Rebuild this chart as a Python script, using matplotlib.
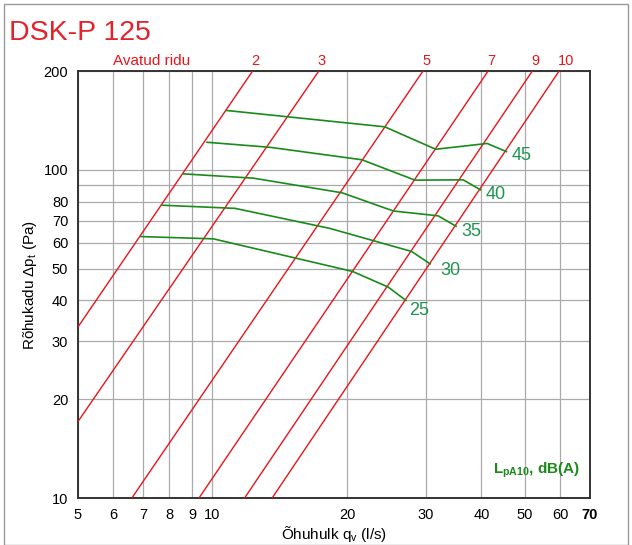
#import drawing modules
import numpy as np
import matplotlib.pyplot as plt
from matplotlib.patches import Rectangle

plt.rcParams['font.family'] = ['Liberation Sans', 'DejaVu Sans']
plt.rcParams['mathtext.fontset'] = 'custom'
plt.rcParams['mathtext.rm'] = 'Liberation Sans'
plt.rcParams['mathtext.it'] = 'Liberation Sans:italic'
plt.rcParams['mathtext.bf'] = 'Liberation Sans:bold'

#red lines: damper openings (start and end point)
ridu_labels = ['2', '3', '5', '7', '9', '10']
ridu_q_start = [5, 5, 6.6, 9.33, 11.8, 13.6]
ridu_dp_start = [33.2, 17.1, 10, 10, 10, 10]
ridu_q_end = [12.3, 17.3, 29.6, 41.4, 52.0, 59.7]
ridu_dp_end = [200, 200, 200, 200, 200, 200]

#green lines: sound level curves
levels = [25, 30, 35, 40, 45]
q_25 = [6.92, 10.05, 20.6, 24.75, 27.1]
dp_25 = [62.6, 61.6, 49.0, 43.9, 40.0]
q_30 = [7.71, 11.23, 18.3, 27.9, 30.7]
dp_30 = [78.0, 76.3, 66.3, 56.4, 51.7]
q_35 = [8.6, 12.35, 19.5, 25.4, 32.0, 35.1]
dp_35 = [97.2, 94.3, 85.1, 74.9, 72.4, 67.3]
q_40 = [9.72, 13.45, 21.6, 28.4, 36.4, 39.8]
dp_40 = [121.3, 117.1, 107.3, 93.0, 93.2, 86.9]
q_45 = [10.76, 24.3, 31.6, 41.2, 45.5]
dp_45 = [151.6, 135.2, 115.5, 120.3, 113.6]
curves_q = [q_25, q_30, q_35, q_40, q_45]
curves_dp = [dp_25, dp_30, dp_35, dp_40, dp_45]
#label offsets in pixels from the curve end
label_offsets = [(3, -10), (10, -7), (5, -5), (5, -5), (5, -4)]

x_ticks = [5, 6, 7, 8, 9, 10, 20, 30, 40, 50, 60, 70]
y_ticks = [10, 20, 30, 40, 50, 60, 70, 80, 90, 100, 200]
y_ticklabels = ['10', '20', '30', '40', '50', '60', '70', '80', '', '100', '200']

red = '#e8141c'
green_line = '#1a8a1a'
green_text = '#1e9650'

fig = plt.figure(figsize=(6.32, 5.45), dpi=100)
ax = fig.add_axes([78/632, 47/545, 512/632, 427/545])
ax.set_xscale('log')
ax.set_yscale('log')
ax.set_xlim(5, 70)
ax.set_ylim(10, 200)

ax.set_xticks(x_ticks)
ax.set_xticklabels([str(t) for t in x_ticks])
ax.get_xticklabels()[-1].set_fontweight('bold')
ax.set_yticks(y_ticks)
ax.set_yticklabels(y_ticklabels)
ax.minorticks_off()
ax.tick_params(length=0, pad=7, labelsize=10.5)
ax.grid(True, color='#aaaaaa', lw=0.9)
ax.set_axisbelow(True)
for s in ax.spines.values():
    s.set_color('#333333')
    s.set_linewidth(1.4)

#draw the red lines
for i in range(len(ridu_labels)):
    ax.plot([ridu_q_start[i], ridu_q_end[i]], [ridu_dp_start[i], ridu_dp_end[i]],
            color=red, lw=1.0, zorder=3)
    ax.annotate(ridu_labels[i], xy=(ridu_q_end[i], ridu_dp_end[i]), xytext=(-1, 3),
                textcoords='offset pixels', ha='left', va='bottom', color=red,
                fontsize=10.5, annotation_clip=False)
ax.annotate('Avatud ridu', xy=(0.1445, 1), xycoords='axes fraction', xytext=(0, 3),
            textcoords='offset pixels', ha='center', va='bottom', color=red, fontsize=11)

#draw the green lines
for i in range(len(levels)):
    ax.plot(curves_q[i], curves_dp[i], color=green_line, lw=1.2, zorder=4)
    ax.annotate(str(levels[i]), xy=(curves_q[i][-1], curves_dp[i][-1]), xytext=label_offsets[i],
                textcoords='offset pixels', ha='left', va='center', color=green_text, fontsize=13)

ax.text(0.8105, 0.0656, r'L$_\mathbf{pA10}$, dB(A)', transform=ax.transAxes, color='#1a8a1a',
        fontsize=11, fontweight='bold', ha='left', va='center')

#labels and title
ax.set_xlabel(r'Õhuhulk q$_\mathregular{v}$ (l/s)', fontsize=11, labelpad=2)
ax.set_ylabel(r'Rõhukadu Δp$_\mathregular{t}$ (Pa)', fontsize=11, labelpad=3)
fig.text(9/632, 1 - 40/545, 'DSK-P 125', color='#e3232b', fontsize=20.5, ha='left', va='baseline')

#gray frame round the figure
fig.add_artist(Rectangle((4/632, 0), 624/632, 541/545, transform=fig.transFigure,
                         fill=False, edgecolor='#999999', lw=1))

fig.savefig('out.png', dpi=100)
